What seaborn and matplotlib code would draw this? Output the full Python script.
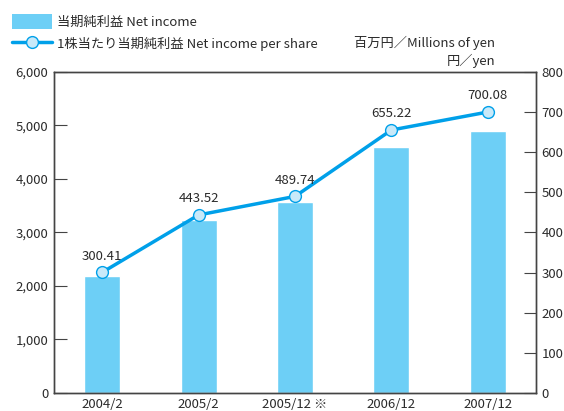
import numpy as np
import pandas as pd
import seaborn as sns
import matplotlib.pyplot as plt
from matplotlib.patches import Patch
from matplotlib.lines import Line2D

# dati
periodi = ['2004/2', '2005/2', '2005/12 ※', '2006/12', '2007/12']
utile_netto = [2180, 3230, 3560, 4590, 4890]          # milioni di yen
utile_per_azione = [300.41, 443.52, 489.74, 655.22, 700.08]  # yen

sns.set_theme(style='white')
plt.rcParams['font.family'] = ['Noto Sans CJK JP', 'DejaVu Sans']

colore_barre = '#6dcff6'
colore_linea = '#00a0e9'
colore_testo = '#2b2b2b'

df = pd.DataFrame({'periodo': periodi, 'utile': utile_netto, 'eps': utile_per_azione})
df['pos'] = np.arange(len(df))

fig = plt.figure(figsize=(5.64, 4.11), dpi=100)
ax = fig.add_axes([0.0957, 0.044, 0.8547, 0.781])

sns.barplot(data=df, x='periodo', y='utile', color=colore_barre, saturation=1,
            width=0.375, ax=ax)
ax.set_ylim(0, 6000)
ax.set_xlim(-0.5, 4.5)
ax.set_yticks(range(0, 6001, 1000))
ax.set_yticklabels([f'{v:,}' for v in range(0, 6001, 1000)])
ax.set_xlabel('')
ax.set_ylabel('')

ax2 = ax.twinx()
sns.lineplot(data=df, x='pos', y='eps', color=colore_linea, linewidth=2.5,
             marker='o', markersize=8.5, markerfacecolor='#c8e9f9',
             markeredgecolor=colore_linea, markeredgewidth=1, ax=ax2)
ax2.set_ylim(0, 800)
ax2.set_yticks(range(0, 801, 100))
ax2.set_ylabel('')
ax2.set_xlim(-0.5, 4.5)

for x, v in zip(df['pos'], df['eps']):
    ax2.annotate(f'{v:.2f}', (x, v), xytext=(0, 7), textcoords='offset points',
                 ha='center', va='bottom', fontsize=9.5, color=colore_testo)

for a in (ax, ax2):
    for s in a.spines.values():
        s.set_color('#444444')
        s.set_linewidth(1)
    a.spines['top'].set_visible(True)

ax.tick_params(axis='y', direction='in', length=9, width=0.8, color='#444444',
               labelsize=9.5, labelcolor=colore_testo, pad=4)
ax.tick_params(axis='x', length=0, labelsize=9.5, labelcolor=colore_testo, pad=4)
ax2.tick_params(axis='y', direction='in', length=9, width=0.8, color='#444444',
                labelsize=9.5, labelcolor=colore_testo, pad=4)

# legenda
maniglie = [Patch(facecolor=colore_barre, edgecolor='none'),
            Line2D([0], [0], color=colore_linea, linewidth=2.5, marker='o',
                   markersize=8.5, markerfacecolor='#c8e9f9', markeredgecolor=colore_linea)]
fig.legend(maniglie, ['当期純利益 Net income', '1株当たり当期純利益 Net income per share'],
           loc='upper left', bbox_to_anchor=(0.012, 0.978), frameon=False,
           fontsize=9.5, handlelength=3.0, handleheight=1.3, handletextpad=0.4,
           labelspacing=0.55, labelcolor=colore_testo, borderaxespad=0)

fig.text(0.878, 0.895, '百万円／Millions of yen', ha='right', va='center',
         fontsize=9.5, color=colore_testo)
fig.text(0.878, 0.852, '円／yen', ha='right', va='center',
         fontsize=9.5, color=colore_testo)

fig.savefig('out.png', dpi=100)
